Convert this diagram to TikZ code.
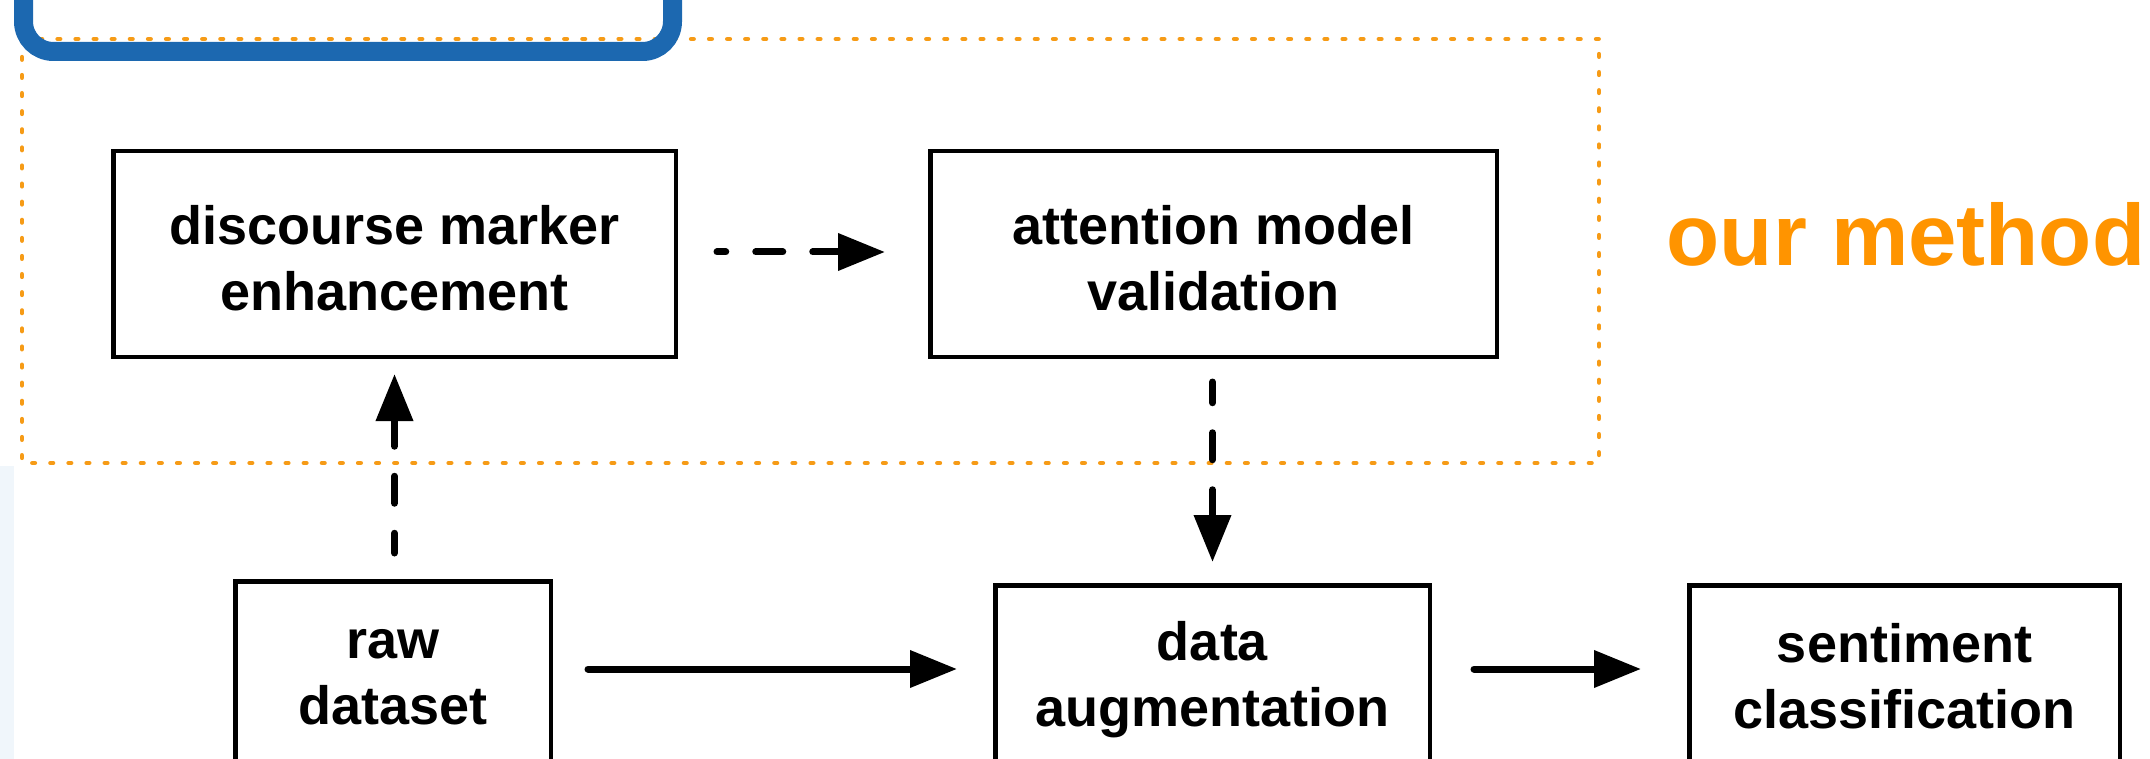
\documentclass[tikz,border=0pt]{standalone}
\usepackage{fontspec}
\setmainfont{Liberation Sans}
\usetikzlibrary{arrows.meta}

\definecolor{methodorange}{RGB}{255,148,0}
\definecolor{dotorange}{RGB}{246,155,22}
\definecolor{frameblue}{RGB}{28,104,176}
\definecolor{edgetint}{RGB}{240,246,251}

\tikzset{
  stepbox/.style={draw=black, line width=4.5pt, minimum height=205.5pt, inner sep=0pt},
  boxtext/.style={font=\bfseries\fontsize{54pt}{66pt}\selectfont, align=center, inner sep=0pt},
  headtip/.style={-{Triangle[length=47pt,width=36pt]}},
  flow/.style={line width=7pt, line cap=round, headtip},
  hintflow/.style={line width=7pt, line cap=round, dash pattern=on 27pt off 30pt,
                   {Triangle[length=47pt,width=36pt]}-},
  methodframe/.style={draw=dotorange, line width=4.6pt, line cap=round, dash pattern=on 2.5pt off 15.6pt},
  blueframe/.style={draw=frameblue, line width=19pt, rounded corners=30pt},
}

\begin{document}
\begin{tikzpicture}[x=1pt,y=-1pt]
\useasboundingbox (0,0) rectangle (2150,759);
\clip (0,0) rectangle (2150,759);

% pale strip along the left edge
\fill[edgetint] (0,466) rectangle (14,759);

% dotted frame around the proposed stages
\draw[methodframe] (22,39) rectangle (1599,463);

% blue frame running off the top
\draw[blueframe] (23.5,-80) rectangle (672.5,51.5);

% stages of the pipeline
\node[stepbox, minimum width=562.5pt] (dme) at (394.5,254) {};
\node[stepbox, minimum width=566.5pt] (amv) at (1213.5,254) {};
\node[stepbox, minimum width=315.5pt] (raw) at (393,684) {};
\node[stepbox, minimum width=434.5pt] (aug) at (1212.5,688) {};
\node[stepbox, minimum width=430.5pt] (cls) at (1904.5,688) {};

\node[boxtext] (dme-t) at (394.5,264) {\strut discourse marker\\\strut enhancement};
\node[boxtext] (amv-t) at (1213.5,264) {\strut attention model\\\strut validation};
\node[boxtext] (raw-t) at (393,678) {\strut raw\\\strut dataset};
\node[boxtext] (aug-t) at (1212.5,680) {\strut data\\\strut augmentation};
\node[boxtext] (cls-t) at (1904.5,682) {\strut sentiment\\\strut classification};

\node[font=\bfseries\fontsize{87pt}{100pt}\selectfont, text=methodorange, anchor=base, inner sep=0pt]
  (method) at (1906,266) {our method};

% dashed connectors (drawn from the tip end so the dashes start at the head)
\draw[hintflow, shorten <=43pt, shorten >=39pt] (amv.west |- 0,252) -- (dme.east |- 0,252);
\draw[hintflow, shorten <=15pt, shorten >=26pt] (dme.south |- 0,359) -- (dme.south |- raw.north);
\draw[hintflow, shorten <=21pt, shorten >=23pt] (aug.north) -- (aug.north |- amv.south);

% solid connectors
\draw[flow, shorten <=35pt, shorten >=36pt] (raw.east |- 0,669) -- (aug.west |- 0,669);
\draw[flow, shorten <=42pt, shorten >=46pt] (aug.east |- 0,669) -- (cls.west |- 0,669);
\end{tikzpicture}
\end{document}
